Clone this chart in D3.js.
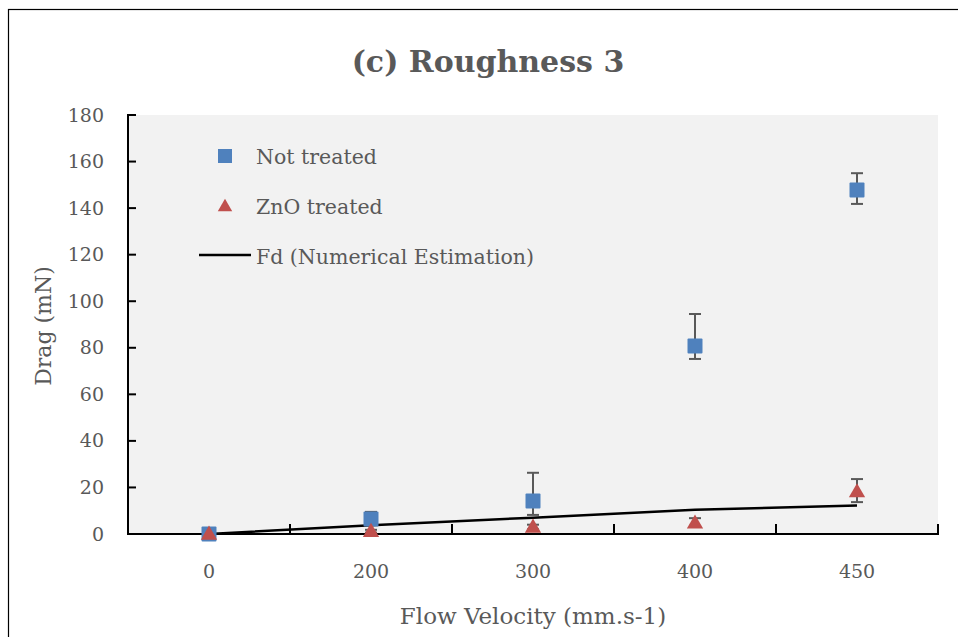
<!DOCTYPE html>
<html><head><meta charset="utf-8">
<script src="https://cdn.jsdelivr.net/npm/d3@7/dist/d3.min.js"></script>
<style>body{margin:0;background:#fff}svg{display:block}</style>
</head><body><svg id="c" width="958" height="637"></svg>
<script>
const categories = ["0","200","300","400","450"];
const notTreated = [0, 6.4, 14.2, 80.8, 147.8];
const notTreatedHi = [0, 9.5, 26.3, 94.5, 155];
const notTreatedLo = [0, 4, 8.2, 75.2, 141.8];
const znoTreated = [0, 1.2, 3, 4.8, 18.2];
const znoHi = [0, 1.8, 4, 6.8, 23.6];
const znoLo = [0, 0.6, 2, 3.5, 13.7];
const fd = [0, 3.8, 7, 10.4, 12.2];
const yTicks = [0,20,40,60,80,100,120,140,160,180];

const svg = d3.select("#c");
const font = "'DejaVu Serif', 'Liberation Serif', serif";
const grey = "#595959";
const L=128, R=938, T=115, B=534;

svg.append("rect").attr("x",8.5).attr("y",9.5).attr("width",960).attr("height",640)
  .attr("fill","none").attr("stroke","#000").attr("stroke-width",1.2);

svg.append("text").attr("x",488).attr("y",72).attr("text-anchor","middle")
  .attr("font-family",font).attr("font-weight","bold").attr("font-size",30).attr("fill",grey)
  .text("(c) Roughness 3");

svg.append("rect").attr("x",L).attr("y",T).attr("width",R-L).attr("height",B-T).attr("fill","#f2f2f2");

const x = d3.scaleBand().domain(categories).range([L,R]);
const y = d3.scaleLinear().domain([0,180]).range([B,T]);

// y axis
const ya = svg.append("g").attr("transform",`translate(${L},0)`)
  .call(d3.axisLeft(y).tickValues(yTicks).tickSize(0).tickPadding(24));
ya.select(".domain").remove();
ya.selectAll("text").attr("font-family",font).attr("font-size",19).attr("fill",grey);
svg.selectAll(".yt").data(yTicks).join("line").attr("class","yt")
  .attr("x1",L).attr("x2",L+8).attr("y1",d=>y(d)).attr("y2",d=>y(d)).attr("stroke","#000").attr("stroke-width",2);
svg.append("line").attr("x1",L).attr("x2",L).attr("y1",T-1).attr("y2",B+1).attr("stroke","#000").attr("stroke-width",2);

// x axis
const xa = svg.append("g").attr("transform",`translate(0,${B})`)
  .call(d3.axisBottom(x).tickSize(0).tickPadding(31));
xa.select(".domain").remove();
xa.selectAll("text").attr("font-family",font).attr("font-size",19).attr("fill",grey);
svg.append("line").attr("x1",L).attr("x2",R+1).attr("y1",B).attr("y2",B).attr("stroke","#000").attr("stroke-width",2);
const bounds = categories.map(c=>x(c)+x.bandwidth());
svg.selectAll(".xt").data(bounds).join("line").attr("class","xt")
  .attr("x1",d=>d).attr("x2",d=>d).attr("y1",B).attr("y2",B-10).attr("stroke","#000").attr("stroke-width",2);

svg.append("text").attr("x",533).attr("y",624).attr("text-anchor","middle")
  .attr("font-family",font).attr("font-size",23).attr("fill",grey).text("Flow Velocity (mm.s-1)");
svg.append("text").attr("transform","translate(51,326) rotate(-90)").attr("text-anchor","middle")
  .attr("font-family",font).attr("font-size",22).attr("fill",grey).text("Drag (mN)");

const cx = c => x(c)+x.bandwidth()/2;

// Fd line
svg.append("path").datum(fd).attr("fill","none").attr("stroke","#000").attr("stroke-width",2.5)
  .attr("d", d3.line().x((d,i)=>cx(categories[i])).y(d=>y(d)));

function errbars(hi, lo){
  const g = svg.append("g").attr("stroke","#595959").attr("stroke-width",2);
  categories.forEach((c,i)=>{
    if(hi[i]===lo[i]) return;
    const X = cx(c);
    g.append("line").attr("x1",X).attr("x2",X).attr("y1",y(hi[i])).attr("y2",y(lo[i]));
    g.append("line").attr("x1",X-6).attr("x2",X+6).attr("y1",y(hi[i])).attr("y2",y(hi[i]));
    g.append("line").attr("x1",X-6).attr("x2",X+6).attr("y1",y(lo[i])).attr("y2",y(lo[i]));
  });
}
errbars(notTreatedHi, notTreatedLo);
errbars(znoHi, znoLo);

const blue = "#4f81bd", red = "#c0504d";
svg.selectAll(".sq").data(notTreated).join("rect").attr("class","sq")
  .attr("x",(d,i)=>cx(categories[i])-7.5).attr("y",d=>y(d)-7.5).attr("width",15).attr("height",15)
  .attr("rx",1).attr("fill",blue);
const tri = d3.symbol().type(d3.symbolTriangle).size(115);
svg.selectAll(".tr").data(znoTreated).join("path").attr("class","tr")
  .attr("transform",(d,i)=>`translate(${cx(categories[i])},${y(d)+1})`).attr("d",tri).attr("fill",red);

// legend
const lg = svg.append("g").attr("font-family",font).attr("font-size",20.5).attr("fill",grey);
lg.append("rect").attr("x",218).attr("y",149).attr("width",14).attr("height",14).attr("fill",blue);
lg.append("text").attr("x",256).attr("y",164).text("Not treated");
lg.append("path").attr("transform","translate(225,207)").attr("d",d3.symbol().type(d3.symbolTriangle).size(90)).attr("fill",red);
lg.append("text").attr("x",256).attr("y",214).text("ZnO treated");
lg.append("line").attr("x1",199).attr("x2",251).attr("y1",255).attr("y2",255).attr("stroke","#000").attr("stroke-width",2.5);
lg.append("text").attr("x",256).attr("y",264).text("Fd (Numerical Estimation)");
</script></body></html>
